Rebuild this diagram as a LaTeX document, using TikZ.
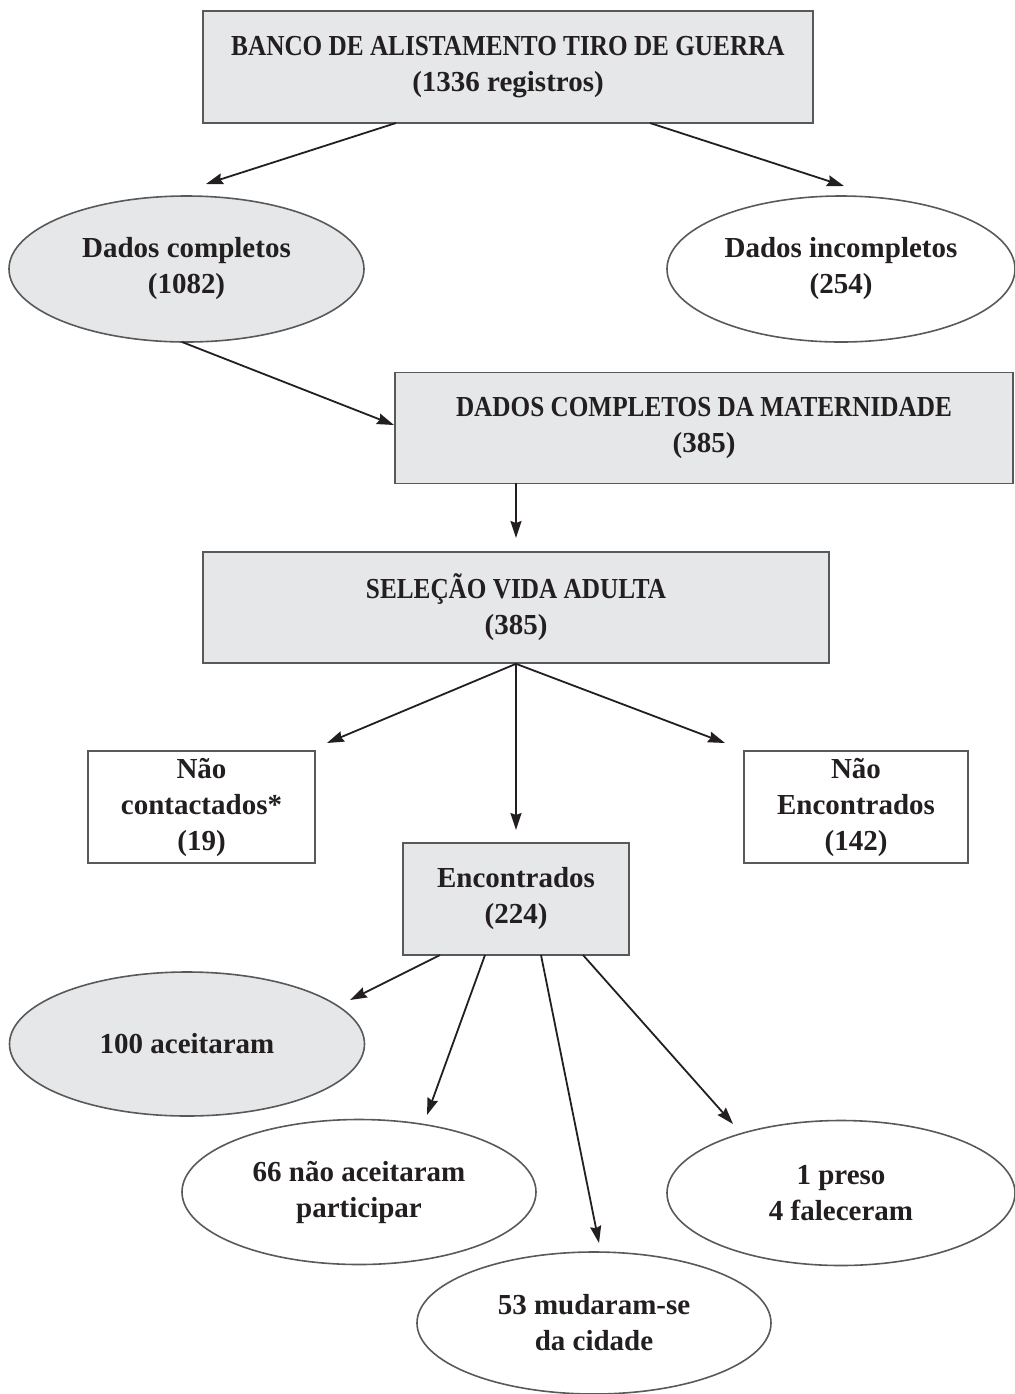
\documentclass[tikz,border=0pt]{standalone}
\usepackage{fontspec}
\setmainfont{Liberation Serif}
\newfontface\versal{Liberation Serif Bold}[FakeStretch=0.87]
\usetikzlibrary{shapes.geometric,arrows.meta}
\definecolor{cinzafundo}{HTML}{E6E7E8}
\definecolor{cinzalinha}{HTML}{58595B}
\definecolor{tinta}{HTML}{231F20}
\begin{document}
\begin{tikzpicture}[x=0.5pt,y=-0.5pt,
    texto/.style={text=tinta,align=center,font=\bfseries\fontsize{14.5}{18}\selectfont},
    caixa/.style={texto,rectangle,draw=cinzalinha,line width=0.8pt,inner sep=0pt},
    elipse/.style={texto,ellipse,draw=cinzalinha,line width=0.8pt,inner sep=0pt},
    cinza/.style={fill=cinzafundo},
    seta/.style={draw=tinta,line width=0.9pt,-{Stealth[length=8.5pt,width=5.5pt,inset=1pt]}}]
      \useasboundingbox (0,0) rectangle (1015,1394);
      % caixas e elipses
      \node[caixa,cinza,minimum width=305pt,minimum height=56pt] (banco) at (508,67) {{\versal BANCO DE ALISTAMENTO TIRO DE GUERRA}\\(1336 registros)};
      \node[elipse,cinza,minimum width=177.5pt,minimum height=73pt] (completos) at (186.5,269) {Dados completos\\(1082)};
      \node[elipse,minimum width=174pt,minimum height=73pt] (incompletos) at (841,269) {Dados incompletos\\(254)};
      \node[caixa,cinza,minimum width=309pt,minimum height=55.5pt] (maternidade) at (704,428) {{\versal DADOS COMPLETOS DA MATERNIDADE}\\(385)};
      \node[caixa,cinza,minimum width=313pt,minimum height=55.5pt] (selecao) at (516,607.5) {{\versal SELEÇÃO VIDA ADULTA}\\(385)};
      \node[caixa,minimum width=113.5pt,minimum height=56pt] (contactados) at (201.5,807) {Não\\contactados*\\(19)};
      \node[caixa,minimum width=112pt,minimum height=56pt] (naoencontrados) at (856,807) {Não\\Encontrados\\(142)};
      \node[caixa,cinza,minimum width=113pt,minimum height=56pt] (encontrados) at (516,899) {Encontrados\\(224)};
      \node[elipse,cinza,minimum width=177.5pt,minimum height=72pt] (aceitaram) at (187,1044) {100 aceitaram};
      \node[elipse,minimum width=177pt,minimum height=72.5pt] (recusaram) at (359,1192) {66 não aceitaram\\participar};
      \node[elipse,minimum width=177pt,minimum height=71pt] (mudaram) at (594,1323) {53 mudaram-se\\da cidade};
      \node[elipse,minimum width=174pt,minimum height=72.5pt] (preso) at (841,1193) {1 preso\\4 faleceram};
      % pontas das setas
      \coordinate (b1) at (396,123);
      \coordinate (b2) at (650,123);
      \coordinate (c1) at (206,184);
      \coordinate (c2) at (844,186);
      \coordinate (d1) at (182,342);
      \coordinate (d2) at (394,425);
      \coordinate (m1) at (516,483);
      \coordinate (m2) at (516,538);
      \coordinate (s1) at (327,743);
      \coordinate (s2) at (516,830);
      \coordinate (s3) at (725,743);
      \coordinate (e1) at (440,955);
      \coordinate (e2) at (485,955);
      \coordinate (e3) at (541,955);
      \coordinate (e4) at (583,955);
      \coordinate (f1) at (350,1000);
      \coordinate (f2) at (427,1115);
      \coordinate (f3) at (599,1243);
      \coordinate (f4) at (733,1124);
      % setas
      \draw[seta] (b1) -- (c1);
      \draw[seta] (b2) -- (c2);
      \draw[seta] (d1) -- (d2);
      \draw[seta] (m1) -- (m2);
      \draw[seta] (selecao.south) -- (s1);
      \draw[seta] (selecao.south) -- (s2);
      \draw[seta] (selecao.south) -- (s3);
      \draw[seta] (e1) -- (f1);
      \draw[seta] (e2) -- (f2);
      \draw[seta] (e3) -- (f3);
      \draw[seta] (e4) -- (f4);
\end{tikzpicture}
\end{document}
